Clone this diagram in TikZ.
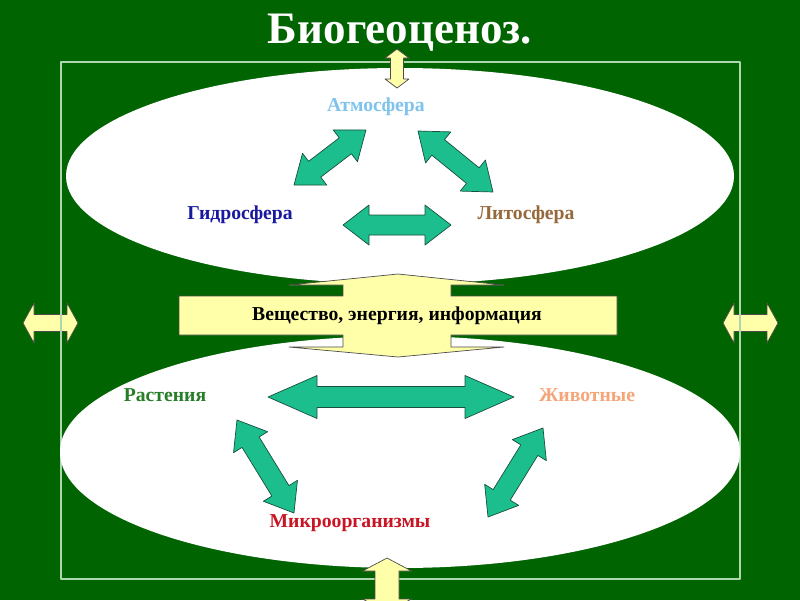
\documentclass[tikz,border=0pt]{standalone}
\usepackage{fontspec}
\setmainfont{Liberation Serif}
\definecolor{bg}{RGB}{0,100,0}
\definecolor{framecol}{RGB}{175,215,175}
\definecolor{sea}{RGB}{28,190,142}
\definecolor{seadark}{RGB}{25,80,60}
\definecolor{pale}{RGB}{255,255,170}
\definecolor{atmcol}{RGB}{125,195,235}
\definecolor{hydcol}{RGB}{25,25,160}
\definecolor{litcol}{RGB}{150,105,60}
\definecolor{rascol}{RGB}{40,125,40}
\definecolor{zhicol}{RGB}{245,165,120}
\definecolor{mikcol}{RGB}{200,20,35}
% block arrow from (#2,#3) to (#4,#5), sizes in \sw \hw \hl
\newcommand{\dblarrow}[5][sea arrow]{%
  \pgfmathsetmacro\ang{atan2((#5)-(#3),(#4)-(#2))}%
  \pgfmathsetmacro\len{veclen((#4)-(#2),(#5)-(#3))}%
  \draw[#1, shift={(#2,#3)}, rotate=-\ang]
    (0,0) -- (\hl,\hw) -- (\hl,\sw) -- (\len-\hl,\sw) -- (\len-\hl,\hw) -- (\len,0)
    -- (\len-\hl,-\hw) -- (\len-\hl,-\sw) -- (\hl,-\sw) -- (\hl,-\hw) -- cycle;}
\begin{document}
\begin{tikzpicture}[x=0.025cm, y=-0.025cm, line join=round]
  \tikzset{sea arrow/.style={fill=sea, draw=seadark, line width=0.5pt},
    pale arrow/.style={fill=pale, draw=black!70, line width=0.5pt},
    lbl/.style={font=\fontsize{14}{16}\selectfont\bfseries, inner sep=0pt}}
  \fill[bg] (0,0) rectangle (800,600);
  \clip (0,0) rectangle (800,600);
  % side arrows and frame
  \def\sw{8.5}\def\hw{20}\def\hl{11}
  \dblarrow[pale arrow]{23}{323}{78}{323}
  \dblarrow[pale arrow]{723}{323}{778}{323}
  \draw[framecol, line width=0.8pt] (61,62) rectangle (740,579);
  % spheres
  \fill[white] (400,176) ellipse [x radius=334, y radius=108];
  \fill[white] (400,452) ellipse [x radius=340, y radius=116];
  \draw[pale arrow] (179,296) -- (343,296) -- (343,285) -- (289,285) -- (398,274)
    -- (504,285) -- (451,285) -- (451,296) -- (617,296) -- (617,335) -- (451,335)
    -- (451,347) -- (504,347) -- (398,357) -- (289,347) -- (343,347) -- (343,335)
    -- (179,335) -- cycle;
  \def\sw{6.5}\def\hw{12}\def\hl{9}
  \dblarrow[pale arrow]{397}{49}{397}{88}
  \def\sw{12}\def\hw{24.5}\def\hl{13}
  \dblarrow[pale arrow]{387}{558}{387}{612}
  % exchange arrows
  \def\sw{10}\def\hw{20}\def\hl{26}
  \dblarrow{294}{185}{366}{130}
  \dblarrow{418}{131}{493}{192}
  \dblarrow{343}{225}{451}{225}
  \dblarrow{237}{420}{294}{513}
  \dblarrow{543}{428}{488}{517}
  \def\sw{10.5}\def\hw{21.5}\def\hl{49}
  \dblarrow{268}{397}{514}{397}
  % labels
  \node[white, font=\fontsize{32}{36}\selectfont\bfseries] (title) at (400,33) {Биогеоценоз.};
  \node[lbl, atmcol] (atm) at (376,107) {Атмосфера};
  \node[lbl, hydcol] (hyd) at (240,215) {Гидросфера};
  \node[lbl, litcol] (lit) at (526,215) {Литосфера};
  \node[lbl] (flow) at (397,316) {Вещество, энергия, информация};
  \node[lbl, rascol] (ras) at (165,395) {Растения};
  \node[lbl, zhicol] (zhi) at (587,395) {Животные};
  \node[lbl, mikcol] (mik) at (350,523) {Микроорганизмы};
\end{tikzpicture}
\end{document}
